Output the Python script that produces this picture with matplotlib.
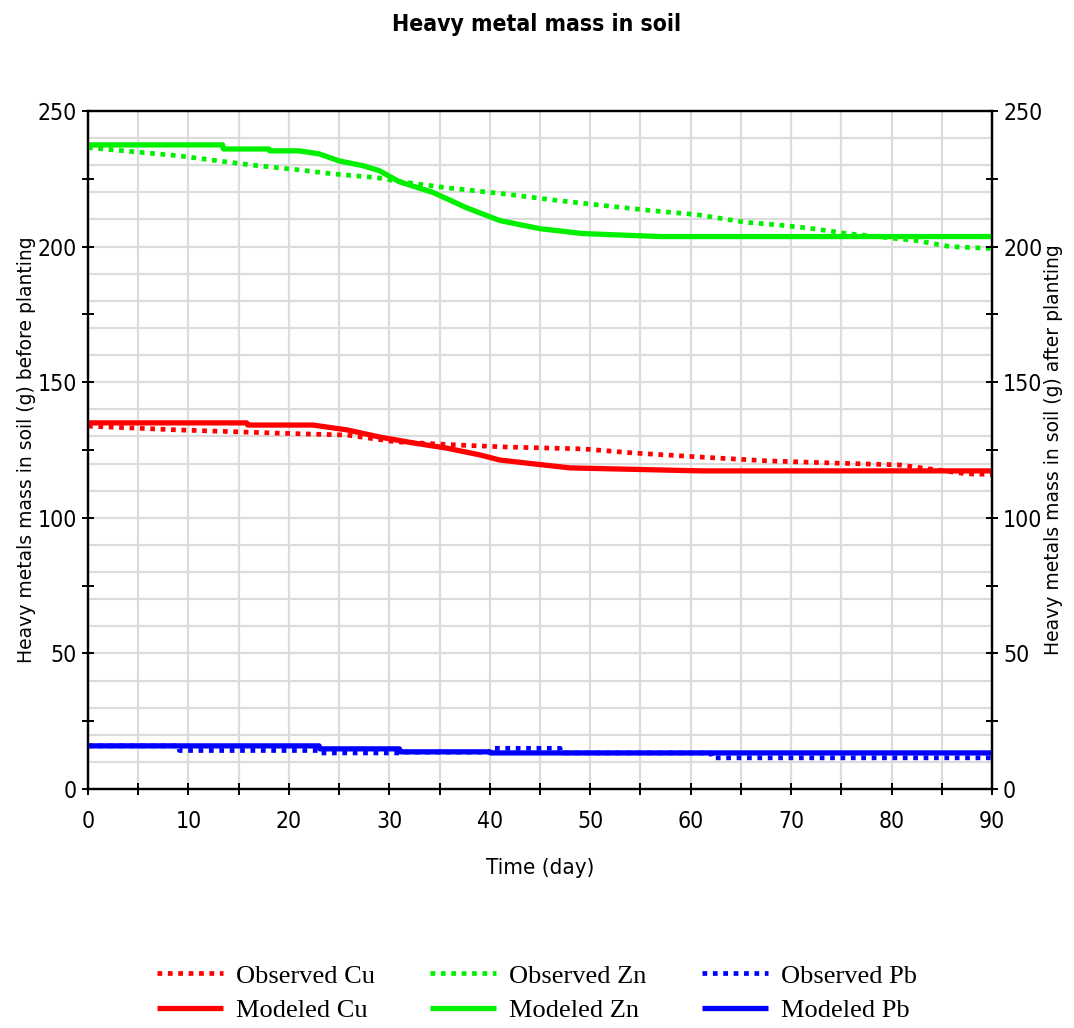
import matplotlib
matplotlib.use("Agg")
import matplotlib.pyplot as plt
from matplotlib.ticker import MultipleLocator

# ---------------- data ----------------
obs_zn_days = [0, 6, 9, 13, 16.5, 21, 24.4, 28.8, 31, 35.7, 41.3, 47, 51.7, 56.3, 60.6, 65.4, 68.7, 72.2, 75.6, 82.5, 85.8, 90]
obs_zn_vals = [236.5, 234.5, 233.5, 231.6, 230, 228.3, 226.8, 225.4, 224, 221.7, 219.5, 216.9, 215, 213.2, 211.8, 209, 208, 206.6, 204.8, 202.2, 200, 199.3]

mod_zn_days = [0, 13.4, 13.5, 18, 18.1, 21, 23, 25, 27.4, 29, 31, 34.4, 37.7, 41, 45, 49.3, 57, 90]
mod_zn_vals = [237.5, 237.5, 236, 236, 235.3, 235.3, 234.2, 231.6, 229.8, 228, 223.9, 219.9, 214.3, 209.6, 206.6, 204.8, 203.7, 203.7]

obs_cu_days = [0, 9, 19, 25.8, 30.7, 37, 41.7, 49.3, 54.3, 61, 67.6, 74.2, 80.8, 83, 87.5, 90]
obs_cu_vals = [133.8, 132.4, 131.2, 130.5, 128, 126.8, 126.1, 125.4, 123.9, 122.4, 121, 120.2, 119.5, 118.4, 116.2, 116]

mod_cu_days = [0, 15.8, 15.9, 22.4, 25.8, 29, 32.4, 35.7, 39, 41, 45.3, 48, 61, 90]
mod_cu_vals = [135, 135, 134.2, 134.2, 132.4, 129.8, 127.6, 125.7, 123.2, 121.3, 119.5, 118.4, 117.3, 117.3]

obs_pb_days = [0, 9, 9.1, 23, 23.1, 31, 31.1, 40, 40.1, 47, 47.1, 62, 62.1, 90]
obs_pb_vals = [15.9, 15.9, 14.2, 14.2, 13.3, 13.3, 13.6, 13.6, 15.0, 15.0, 13.3, 13.3, 11.5, 11.5]

mod_pb_days = [0, 23, 23.1, 31, 31.1, 40, 40.1, 90]
mod_pb_vals = [15.9, 15.9, 14.8, 14.8, 13.7, 13.7, 13.3, 13.3]

title = "Heavy metal mass in soil"
xlabel = "Time (day)"
ylabel_left = "Heavy metals mass in soil (g) before planting"
ylabel_right = "Heavy metals mass in soil (g) after planting"
legend_labels = ["Observed Cu", "Modeled Cu", "Observed Zn", "Modeled Zn", "Observed Pb", "Modeled Pb"]

# ---------------- style ----------------
RED = "#ff0000"
GREEN = "#00f000"
BLUE = "#0000ff"
narrow = ["DejaVu Sans"]
serif = ["Liberation Serif", "DejaVu Serif"]
sans = ["DejaVu Sans"]

fig = plt.figure(figsize=(10.74, 10.28), dpi=100)
ax = fig.add_axes([88 / 1074, 1 - 789 / 1028, (992 - 88) / 1074, (789 - 111) / 1028])

ax.set_xlim(0, 90)
ax.set_ylim(0, 250)

# grid
for v in range(10, 250, 10):
    ax.axhline(v, color="#dcdcdc", lw=1.6, zorder=0)
for v in range(5, 90, 5):
    ax.axvline(v, color="#dcdcdc", lw=1.6, zorder=0)

dot = (0, (1.0, 1.2))
lw_m = 3.8
lw_o = 3.4
l_mcu, = ax.plot(mod_cu_days, mod_cu_vals, color=RED, lw=lw_m, solid_capstyle="butt", zorder=3)
l_ocu, = ax.plot(obs_cu_days, obs_cu_vals, color=RED, lw=lw_o, ls=dot, dash_capstyle="butt", zorder=4)
l_mzn, = ax.plot(mod_zn_days, mod_zn_vals, color=GREEN, lw=lw_m, solid_capstyle="butt", zorder=3)
l_ozn, = ax.plot(obs_zn_days, obs_zn_vals, color=GREEN, lw=lw_o, ls=dot, dash_capstyle="butt", zorder=4)
l_mpb, = ax.plot(mod_pb_days, mod_pb_vals, color=BLUE, lw=lw_m, solid_capstyle="butt", zorder=3)
l_opb, = ax.plot(obs_pb_days, obs_pb_vals, color=BLUE, lw=lw_o, ls=dot, dash_capstyle="butt", zorder=4)

for s in ax.spines.values():
    s.set_linewidth(1.6)
    s.set_color("black")

ax.xaxis.set_major_locator(MultipleLocator(10))
ax.xaxis.set_minor_locator(MultipleLocator(5))
ax.yaxis.set_major_locator(MultipleLocator(50))
ax.yaxis.set_minor_locator(MultipleLocator(25))
ax.tick_params(which="both", direction="inout", length=8, width=1.4, colors="black")
ax.tick_params(axis="x", which="major", labelsize=16.5, pad=11)
ax.tick_params(axis="y", which="major", labelsize=16.5, pad=4)
for lab in ax.get_xticklabels() + ax.get_yticklabels():
    lab.set_family(narrow)
    lab.set_stretch("condensed")

ax2 = ax.twinx()
ax2.set_ylim(0, 250)
ax2.yaxis.set_major_locator(MultipleLocator(50))
ax2.yaxis.set_minor_locator(MultipleLocator(25))
ax2.tick_params(which="both", direction="inout", length=8, width=1.4)
ax2.tick_params(axis="y", which="major", labelsize=16.5, pad=4)
for lab in ax2.get_yticklabels():
    lab.set_family(narrow)
    lab.set_stretch("condensed")
for s in ax2.spines.values():
    s.set_linewidth(1.6)

ax.set_xlabel(xlabel, fontsize=16, family=narrow, stretch="condensed", labelpad=18)
ax.set_ylabel(ylabel_left, fontsize=13.5, family=sans)
ax2.set_ylabel(ylabel_right, fontsize=13.5, family=sans)
ax.yaxis.set_label_coords((36 - 88) / 904, 0.5)
ax2.yaxis.set_label_coords((1044 - 88) / 904, 0.5)

fig.text(0.5, 1 - 24 / 1028, title, ha="center", va="center", fontsize=16.5,
         fontweight="bold", family=narrow, stretch="condensed")

handles = [l_ocu, l_mcu, l_ozn, l_mzn, l_opb, l_mpb]
leg = fig.legend(handles, legend_labels, loc="center", bbox_to_anchor=(0.5, 1 - 993 / 1028),
                 ncol=3, frameon=False, prop={"family": serif, "size": 19},
                 handlelength=2.5, columnspacing=2.1, labelspacing=0.4, handletextpad=0.5)

fig.savefig("out.png", dpi=100)
